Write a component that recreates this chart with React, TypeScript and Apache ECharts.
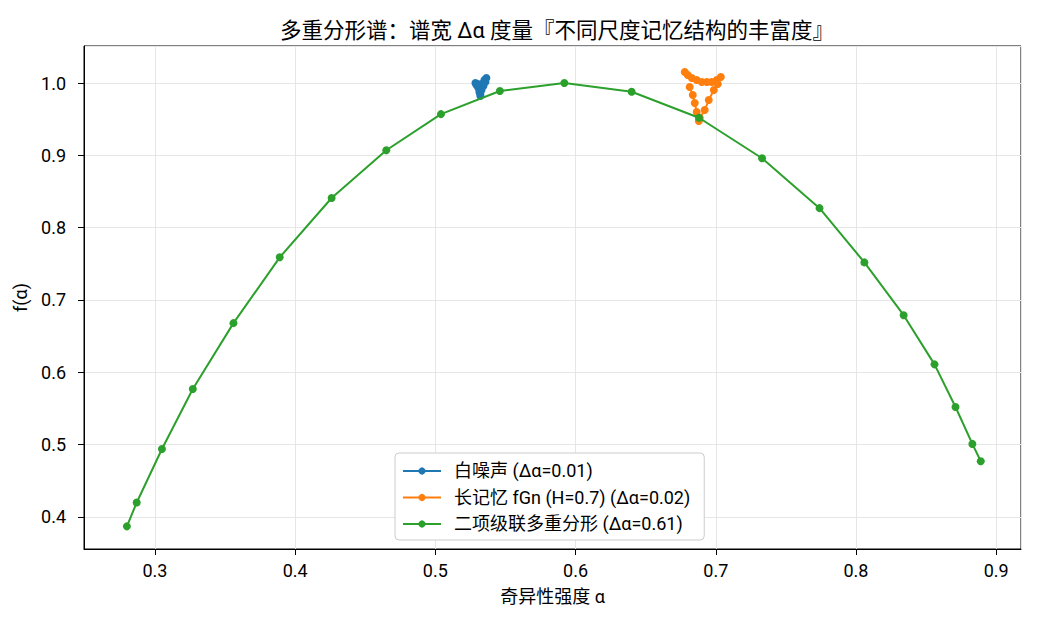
import React, { useEffect, useRef } from "react";
import * as echarts from "echarts";

const titleText = "多重分形谱：谱宽 Δα 度量『不同尺度记忆结构的丰富度』";
const xName = "奇异性强度 α";
const yName = "f(α)";
const seriesNames = [
  "白噪声 (Δα=0.01)",
  "长记忆 fGn (H=0.7) (Δα=0.02)",
  "二项级联多重分形 (Δα=0.61)",
];

const whiteAlpha = [0.5286, 0.53, 0.5314, 0.5329, 0.535, 0.5364, 0.5357, 0.5343, 0.5329, 0.5321, 0.5321, 0.5314, 0.5307, 0.5293];
const whiteF = [1.0, 0.9986, 0.9959, 0.9986, 1.0041, 1.0069, 1.0014, 0.9959, 0.9903, 0.9848, 0.982, 0.9876, 0.9931, 0.9972];

const fgnAlpha = [0.6779, 0.68, 0.6829, 0.6864, 0.69, 0.6936, 0.6971, 0.7007, 0.7036, 0.7014, 0.6986, 0.695, 0.6921, 0.6886, 0.6879, 0.6864, 0.685, 0.6836, 0.6814];
const fgnF = [1.0152, 1.0111, 1.0069, 1.0041, 1.0014, 1.0014, 1.0014, 1.0041, 1.0083, 0.9986, 0.9903, 0.9765, 0.9627, 0.9516, 0.9474, 0.9599, 0.9723, 0.9834, 0.9945];

const cascAlpha = [0.28, 0.287, 0.305, 0.327, 0.356, 0.389, 0.426, 0.465, 0.504, 0.546, 0.592, 0.64, 0.688, 0.733, 0.774, 0.806, 0.834, 0.856, 0.871, 0.883, 0.889];
const cascF = [0.387, 0.42, 0.494, 0.577, 0.668, 0.759, 0.841, 0.907, 0.957, 0.989, 1.0, 0.988, 0.952, 0.896, 0.827, 0.752, 0.679, 0.611, 0.552, 0.501, 0.477];

const colors = ["#1f77b4", "#ff7f0e", "#2ca02c"];

const zip = (a: number[], b: number[]) => a.map((v, i) => [v, b[i]]);

export default function App() {
  const ref = useRef<HTMLDivElement>(null);
  useEffect(() => {
    if (!ref.current) return;
    const chart = echarts.init(ref.current, undefined, { renderer: "svg" });
    const font = "Roboto, 'Noto Sans CJK SC', sans-serif";
    const datasets = [zip(whiteAlpha, whiteF), zip(fgnAlpha, fgnF), zip(cascAlpha, cascF)];
    const axisCommon = {
      type: "value",
      nameLocation: "middle",
      nameTextStyle: { fontFamily: font, fontSize: 18, color: "#000" },
      axisLine: { show: true, lineStyle: { color: "#000", width: 1 } },
      axisTick: { show: true, length: 6, lineStyle: { color: "#000" } },
      splitLine: { show: true, lineStyle: { color: "#e6e6e6", width: 1 } },
    };
    chart.setOption({
      animation: false,
      textStyle: { fontFamily: font },
      title: {
        text: titleText,
        left: 552,
        textAlign: "center",
        top: 15,
        textStyle: { fontFamily: font, fontSize: 21.5, fontWeight: "normal", color: "#000" },
      },
      grid: {
        left: 84,
        right: 19,
        top: 46,
        bottom: 75,
        show: true,
        borderColor: "#000",
        borderWidth: 1,
      },
      legend: {
        orient: "vertical",
        left: 395,
        top: 453,
        itemWidth: 38,
        itemHeight: 9,
        itemGap: 8.5,
        padding: [9, 14, 7, 7],
        backgroundColor: "#fff",
        borderColor: "#cccccc",
        borderWidth: 1,
        borderRadius: 4,
        textStyle: { fontFamily: font, fontSize: 18, color: "#000", padding: [0, 0, 0, 8] },
        data: seriesNames,
      },
      xAxis: {
        ...axisCommon,
        min: 0.2494,
        max: 0.9177,
        splitNumber: 7,
        name: xName,
        nameGap: 38,
        axisLabel: {
          showMinLabel: false,
          showMaxLabel: false,
          color: "#000",
          fontSize: 18,
          margin: 12,
          formatter: (v: number) => v.toFixed(1),
        },
      },
      yAxis: {
        ...axisCommon,
        min: 0.3557,
        max: 1.0512,
        splitNumber: 7,
        name: yName,
        nameGap: 55,
        axisLabel: {
          showMinLabel: false,
          showMaxLabel: false,
          color: "#000",
          fontSize: 18,
          margin: 18,
          formatter: (v: number) => v.toFixed(1),
        },
      },
      series: seriesNames.map((name, i) => ({
        name,
        type: "line",
        data: datasets[i],
        color: colors[i],
        symbol: "circle",
        symbolSize: 8,
        showSymbol: true,
        lineStyle: { width: 2, color: colors[i] },
        itemStyle: { color: colors[i] },
        z: i === 2 ? 3 : 2,
      })),
    });
    return () => chart.dispose();
  }, []);
  return (
    <div
      ref={ref}
      style={{ position: "absolute", left: 0, top: 0, width: 1040, height: 624, background: "#fff" }}
    />
  );
}
